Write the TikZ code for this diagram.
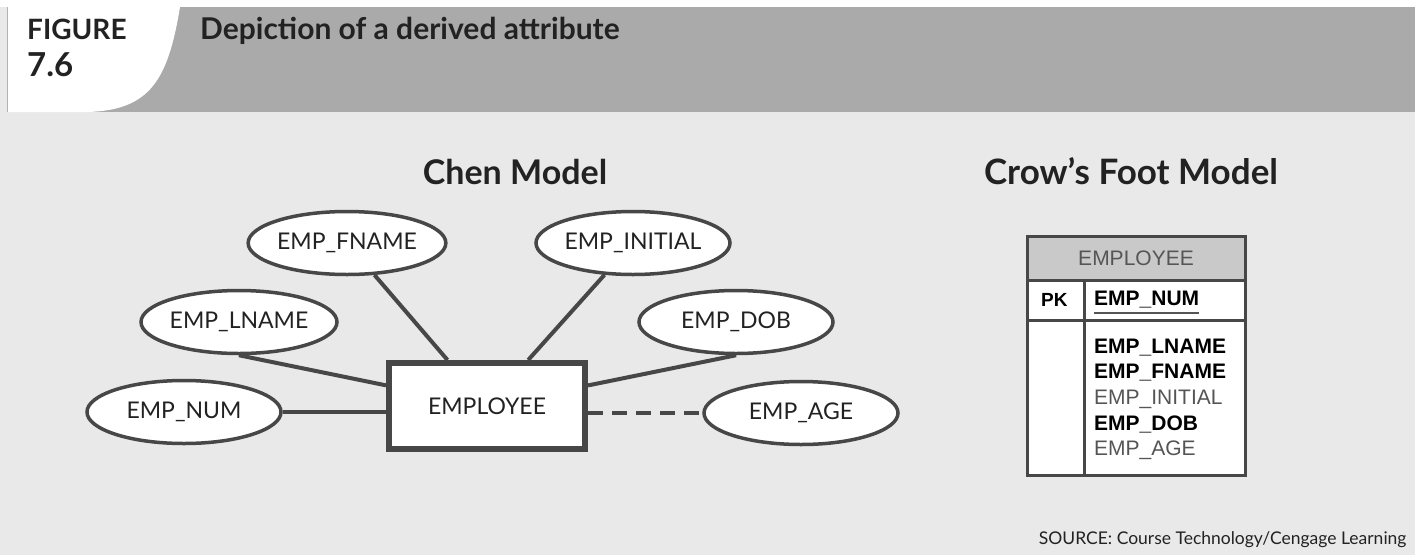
\documentclass[tikz,border=0pt]{standalone}
\usepackage{fontspec}
\usepackage{tikz}
\usetikzlibrary{shapes.geometric}
\setmainfont{Lato}
\newfontfamily\chenfont{Lato}
\newfontfamily\tblfont{Liberation Sans}
\definecolor{bgc}{HTML}{E9E9E9}
\definecolor{hdr}{HTML}{AAAAAA}
\definecolor{edge}{HTML}{474747}
\definecolor{ink}{HTML}{222222}
\definecolor{tblhd}{HTML}{C9C9C9}
\definecolor{tblgray}{HTML}{555555}
\tikzstyle{attr} = [draw=edge, fill=white, ellipse, line width=3.5pt, minimum width=194pt, minimum height=63pt, inner sep=0pt, text=ink, font=\chenfont\fontsize{23}{27}\selectfont]
\tikzstyle{entity} = [draw=edge, fill=white, rectangle, line width=6pt, minimum width=196pt, minimum height=86pt, text=ink, font=\chenfont\fontsize{23}{27}\selectfont]
\tikzstyle{link} = [draw=edge, line width=4pt]
\tikzstyle{heading} = [text=ink, font=\chenfont\bfseries\fontsize{34}{38}\selectfont, inner sep=0pt]
\tikzstyle{field} = [anchor=west, inner sep=0pt, font=\tblfont\fontsize{21}{24}\selectfont]
\tikzstyle{tblline} = [draw=edge, line width=3pt]

\begin{document}
\begin{tikzpicture}[x=1pt, y=-1pt]
        % page and header band
        \fill[bgc] (0,0) rectangle (1415,555);
        \fill[white] (0,0) rectangle (1415,7);
        \fill[hdr] (7,7) rectangle (1415,112);
        \fill[white] (7,7) -- (180,7) .. controls (168,80) and (150,110) .. (88,112) -- (7,112) -- cycle;
        \draw[gray!60, line width=1pt] (7,7) -- (7,112);
        \node[heading, anchor=base west, font=\chenfont\bfseries\fontsize{28}{32}\selectfont] (fig) at (27,39) {FIGURE};
        \node[heading, anchor=base west, font=\chenfont\bfseries\fontsize{33}{36}\selectfont] (fignum) at (27,76) {7.6};
        \node[heading, anchor=base west, font=\chenfont\bfseries\fontsize{30}{34}\selectfont] (title) at (200,39) {Depiction of a derived attribute};

        % Chen model
        \node[heading, anchor=base] (chen) at (515,184) {Chen Model};
        \node[entity] (emp) at (487,406) {EMPLOYEE};
        \node[attr] (fname) at (347,243) {EMP\_FNAME};
        \node[attr] (initial) at (633,243) {EMP\_INITIAL};
        \node[attr] (lname) at (239,322) {EMP\_LNAME};
        \node[attr] (dob) at (736,322) {EMP\_DOB};
        \node[attr] (num) at (184,412) {EMP\_NUM};
        \node[attr] (age) at (801,413) {EMP\_AGE};

        \draw[link] (fname) -- (emp);
        \draw[link] (initial) -- (emp);
        \draw[link] (lname.south) -- (emp);
        \draw[link] (dob.south) -- (emp);
        \draw[link] (num) -- (num -| emp.west);
        \draw[link, dash pattern=on 15pt off 9pt] (age.west -| emp.east) -- (age);

        % Crow's Foot model
        \node[heading, anchor=base, font=\chenfont\bfseries\fontsize{35}{40}\selectfont] (crow) at (1131,184) {Crow’s Foot Model};
        \node[fill=tblhd, minimum width=218pt, minimum height=44pt, text=tblgray, font=\tblfont\fontsize{21}{24}\selectfont] (tblhead) at (1136,258) {EMPLOYEE};
        \fill[white] (1027,280) rectangle (1245,475);
        \draw[tblline] (1027,280) -- (1245,280);
        \draw[tblline] (1027,320) -- (1245,320);
        \draw[tblline] (1084,280) -- (1084,475);
        \draw[tblline] (1027,236) rectangle (1245,475);
        \node[field, font=\tblfont\bfseries\fontsize{19}{22}\selectfont] (pk) at (1041,300) {PK};
        \node[field, font=\tblfont\bfseries\fontsize{21}{24}\selectfont] (pkname) at (1094,300) {EMP\_NUM};
        \draw[tblgray, line width=2pt] ([yshift=-4pt]pkname.south west) -- ([yshift=-4pt]pkname.south east);
        \node[field, font=\tblfont\bfseries\fontsize{21}{24}\selectfont] (lnamef) at (1094,348) {EMP\_LNAME};
        \node[field, font=\tblfont\bfseries\fontsize{21}{24}\selectfont] (fnamef) at (1094,373) {EMP\_FNAME};
        \node[field, text=tblgray] (initialf) at (1094,399) {EMP\_INITIAL};
        \node[field, font=\tblfont\bfseries\fontsize{21}{24}\selectfont] (dobf) at (1094,424) {EMP\_DOB};
        \node[field, text=tblgray] (agef) at (1094,450) {EMP\_AGE};

        \node[anchor=base east, text=ink, font=\chenfont\fontsize{17.5}{20}\selectfont] (src) at (1410,544) {SOURCE: Course Technology/Cengage Learning};
    \end{tikzpicture}
\end{document}
